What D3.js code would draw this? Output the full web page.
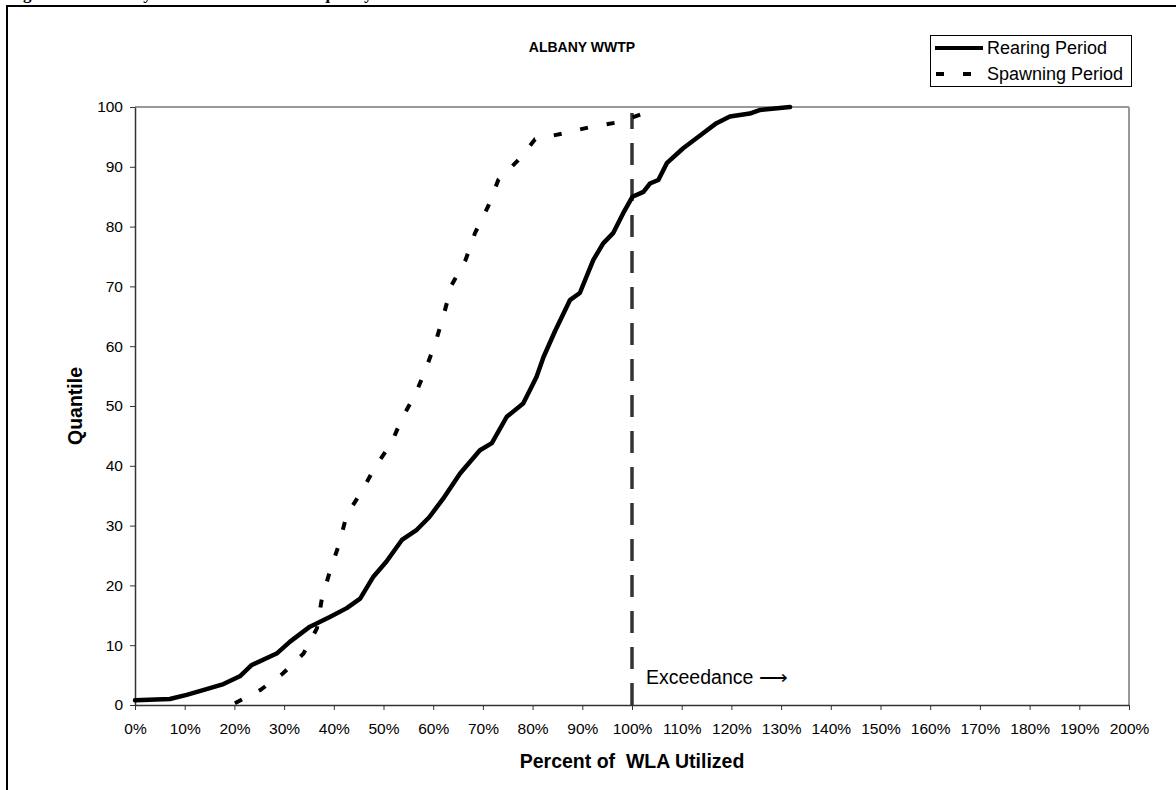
<!DOCTYPE html>
<html><head><meta charset="utf-8">
<script src="https://cdn.jsdelivr.net/npm/d3@7"></script>
<style>body{margin:0;background:#fff}svg{display:block}text{white-space:pre}</style>
</head><body>
<svg id="c" width="1176" height="790"></svg>
<script>
// ---- data ----
const seriesNames = ["Rearing Period", "Spawning Period"];
const rearingPct = [0, 7, 10.4, 13.7, 17.8, 21.1, 23.5, 28.5, 31.2, 35.2, 39.2, 42.6, 45.3, 48, 50.6, 53.7, 56.7, 59.2, 62, 65.4, 69.4, 71.8, 74.8, 78.1, 79.5, 80.8, 82.2, 84.5, 87.5, 89.5, 92.2, 94.2, 96.2, 98.2, 100.1, 102.3, 103.6, 105.3, 107, 110.3, 114.3, 117, 119.7, 123.7, 125.8, 131.8];
const rearingQ   = [0.8, 1.0, 1.7, 2.5, 3.5, 4.8, 6.7, 8.6, 10.6, 13.1, 14.7, 16.2, 17.8, 21.5, 24, 27.6, 29.3, 31.4, 34.5, 38.7, 42.6, 43.8, 48.2, 50.4, 52.7, 54.9, 58.2, 62.5, 67.7, 68.9, 74.4, 77.2, 78.9, 82.2, 85, 85.8, 87.2, 87.8, 90.6, 93.1, 95.6, 97.3, 98.4, 98.9, 99.5, 100];
const spawningPct = [20.1, 25.2, 29.8, 33.9, 36.6, 37.6, 39.2, 41.1, 42.6, 45.6, 48.3, 51.6, 53.7, 56.5, 58.7, 60.6, 62.2, 63.7, 66.5, 68.4, 71, 73.1, 77.1, 80.5, 86.2, 91.9, 97.6, 103.3, 104.5];
const spawningQ   = [0.3, 2.5, 5.3, 8.6, 12.8, 17.8, 22.3, 27, 31.8, 35.7, 39.8, 43.8, 47.9, 52.1, 56.6, 61, 65.5, 70.2, 74.4, 78.9, 83.3, 87.8, 91.1, 94.6, 95.6, 96.7, 97.5, 99.2, 99.8];
const xTicks = [0,10,20,30,40,50,60,70,80,90,100,110,120,130,140,150,160,170,180,190,200];
const yTicks = [0,10,20,30,40,50,60,70,80,90,100];
const thresholdPct = 100;
const chartTitle = "ALBANY WWTP";
const figCaption = "Figure 3-12. Albany WWTP Utilization Frequency Distribution";
const xLabel = "Percent of  WLA Utilized";
const yLabel = "Quantile";
const annotation = "Exceedance \u27F6";

// ---- layout ----
const svg = d3.select("#c");
const L = 135, R = 1129, T = 107, B = 705;
const x = d3.scaleLinear().domain([0, 200]).range([L, R]);
const y = d3.scaleLinear().domain([0, 100]).range([B, T]);
const font = "'Liberation Sans', Arial, sans-serif";

// caption cut at top
svg.append("text").attr("x", 8).attr("y", -1).attr("font-family","'Liberation Serif', 'Times New Roman', serif")
  .attr("font-weight","bold").attr("font-size", 17).attr("fill","#000").text(figCaption);

// outer frame (top and left edges)
svg.append("line").attr("x1",6).attr("x2",1176).attr("y1",6).attr("y2",6).attr("stroke","#000").attr("stroke-width",2);
svg.append("line").attr("x1",7).attr("x2",7).attr("y1",5).attr("y2",790).attr("stroke","#000").attr("stroke-width",2);

// plot frame: top/right gray
svg.append("line").attr("x1",L).attr("x2",R).attr("y1",T).attr("y2",T).attr("stroke","#999").attr("stroke-width",2);
svg.append("line").attr("x1",R).attr("x2",R).attr("y1",T).attr("y2",B).attr("stroke","#999").attr("stroke-width",2);

// axes
const xAxis = d3.axisBottom(x).tickValues(xTicks).tickFormat(d => d + "%").tickSize(5).tickSizeOuter(0);
const yAxis = d3.axisLeft(y).tickValues(yTicks).tickSize(5).tickSizeOuter(0);
const gx = svg.append("g").attr("transform", `translate(0,${B})`).call(xAxis);
const gy = svg.append("g").attr("transform", `translate(${L},0)`).call(yAxis);
[gx, gy].forEach(g => {
  g.select(".domain").attr("stroke","#333").attr("stroke-width",1.5);
  g.selectAll(".tick line").attr("stroke","#333").attr("stroke-width",1);
  g.selectAll(".tick text").attr("font-family", font).attr("font-size", 15.5).attr("fill","#000");
});
gx.selectAll(".tick text").attr("y", 29).attr("dy", null);
gy.selectAll(".tick text").attr("x", -12);

// threshold line
svg.append("line").attr("x1", x(thresholdPct)).attr("x2", x(thresholdPct))
  .attr("y1", y(0)).attr("y2", y(99)).attr("stroke","#333").attr("stroke-width",3.5)
  .attr("stroke-dasharray","22,14");

const line = d3.line().x(d => x(d[0])).y(d => y(d[1]));
const rearing = rearingPct.map((v,i) => [v, rearingQ[i]]);
const spawning = spawningPct.map((v,i) => [v, spawningQ[i]]);

svg.append("path").datum(spawning).attr("d", line).attr("fill","none").attr("stroke","#000")
  .attr("stroke-width",4).attr("stroke-dasharray","8,19");
svg.append("path").datum(rearing).attr("d", line).attr("fill","none").attr("stroke","#000")
  .attr("stroke-width",4.5).attr("stroke-linejoin","round").attr("stroke-linecap","round");

// annotation
svg.append("text").attr("x", 646).attr("y", 684).attr("font-family", font).attr("font-size", 19.5)
  .attr("fill","#000").text(annotation);

// title & labels
svg.append("text").attr("x", 582).attr("y", 52).attr("text-anchor","middle").attr("font-family", font)
  .attr("font-weight","bold").attr("font-size", 14).text(chartTitle);
svg.append("text").attr("x", 632).attr("y", 768).attr("text-anchor","middle").attr("font-family", font)
  .attr("font-weight","bold").attr("font-size", 19.5).text(xLabel);
svg.append("text").attr("transform", "translate(82,406) rotate(-90)").attr("text-anchor","middle")
  .attr("font-family", font).attr("font-weight","bold").attr("font-size", 19.5).text(yLabel);

// legend
const lg = svg.append("g");
lg.append("rect").attr("x", 930.5).attr("y", 35.5).attr("width", 201).attr("height", 51)
  .attr("fill","#fff").attr("stroke","#000").attr("stroke-width",1);
const rows = [{name: seriesNames[0], dash: null, yy: 48}, {name: seriesNames[1], dash: "8,19", yy: 74}];
rows.forEach(r => {
  lg.append("line").attr("x1", 935).attr("x2", 983).attr("y1", r.yy).attr("y2", r.yy)
    .attr("stroke","#000").attr("stroke-width",4).attr("stroke-dasharray", r.dash)
    .attr("stroke-dashoffset", r.dash ? -1 : null);
  lg.append("text").attr("x", 987).attr("y", r.yy + 6).attr("font-family", font).attr("font-size", 18)
    .attr("fill","#000").text(r.name);
});
</script>
</body></html>
